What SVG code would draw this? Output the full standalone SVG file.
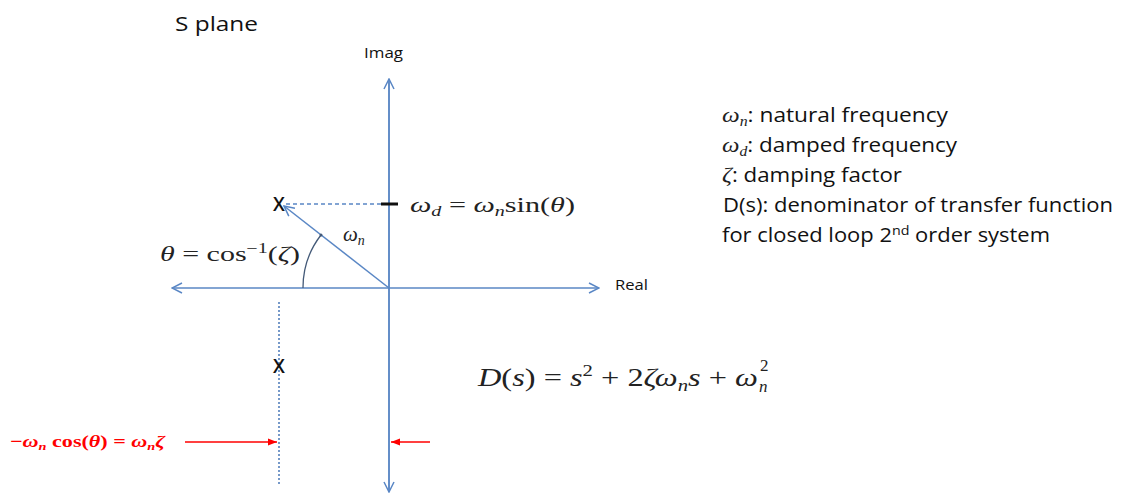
<svg xmlns="http://www.w3.org/2000/svg" width="1124" height="495" viewBox="0 0 1124 495">
<style>
.ax{stroke:#5a87c5;stroke-width:1.5;fill:none}
.lbl{font-family:"Open Sans","Liberation Sans",sans-serif;fill:#111}
.m{font-family:"Liberation Serif","DejaVu Serif",serif;fill:#222}
.i{font-style:italic}
.red{stroke:#ff0000;stroke-width:1.5;fill:none}
</style>
<defs>
<marker id="open" viewBox="0 0 12 12" refX="11" refY="6" markerWidth="12" markerHeight="12" markerUnits="userSpaceOnUse" orient="auto">
<path d="M1,1 L11,6 L1,11" fill="none" stroke="#5a87c5" stroke-width="1.5"/>
</marker>
<marker id="redhead" viewBox="0 0 10 10" refX="10" refY="5" markerWidth="9" markerHeight="9" markerUnits="userSpaceOnUse" orient="auto">
<path d="M0,1 L10,5 L0,9 Z" fill="#ff0000"/>
</marker>
</defs>
<rect width="1124" height="495" fill="#fff"/>

<g id="title"><text class="lbl" x="175" y="31" font-size="20" textLength="83" lengthAdjust="spacingAndGlyphs">S plane</text></g>

<g id="connectors">
<line class="ax" x1="389" y1="492" x2="389" y2="79" marker-end="url(#open)"/>
<line class="ax" x1="389" y1="79" x2="389" y2="492" marker-end="url(#open)"/>
<line class="ax" x1="389" y1="288" x2="172" y2="288" marker-end="url(#open)"/>
<line class="ax" x1="389" y1="288" x2="599" y2="288" marker-end="url(#open)"/>
<line class="ax" x1="389" y1="288" x2="284" y2="206" marker-end="url(#open)"/>
<line x1="286" y1="204" x2="382" y2="204" stroke="#5a87c5" stroke-width="1.3" stroke-dasharray="4,3"/>
<line x1="381" y1="204" x2="398" y2="204" stroke="#111" stroke-width="3"/>
<line x1="279" y1="302" x2="279" y2="486" stroke="#4a78b8" stroke-width="1.5" stroke-dasharray="2,2"/>
<path d="M303,288 A86,86 0 0 1 321,235" fill="none" stroke="#445a78" stroke-width="1.3"/>
<circle cx="321" cy="235" r="1.5" fill="#445a78"/>
<line class="red" x1="185" y1="442" x2="277" y2="442" marker-end="url(#redhead)"/>
<line class="red" x1="430" y1="442" x2="391" y2="442" marker-end="url(#redhead)"/>
</g>

<g id="axis-labels">
<text class="lbl" x="364" y="58" font-size="14" textLength="39" lengthAdjust="spacingAndGlyphs">Imag</text>
<text class="lbl" x="615" y="290" font-size="14" textLength="33" lengthAdjust="spacingAndGlyphs">Real</text>
</g>

<g id="poles">
<text class="lbl" x="279" y="211" font-size="19" font-weight="600" text-anchor="middle">X</text>
<text class="lbl" x="279" y="373" font-size="19" font-weight="600" text-anchor="middle">X</text>
</g>

<g id="math-labels">
<text class="m" x="410" y="212" font-size="21" textLength="165" lengthAdjust="spacingAndGlyphs"><tspan class="i">ω</tspan><tspan class="i" font-size="14" dy="4">d</tspan><tspan dy="-4"> = </tspan><tspan class="i">ω</tspan><tspan class="i" font-size="14" dy="4">n</tspan><tspan dy="-4">sin(</tspan><tspan class="i">θ</tspan>)</text>
<text class="m" x="343" y="241" font-size="21"><tspan class="i">ω</tspan><tspan class="i" font-size="14" dy="4">n</tspan></text>
<text class="m" x="160" y="261" font-size="21" textLength="140" lengthAdjust="spacingAndGlyphs"><tspan class="i">θ</tspan> = cos<tspan font-size="14" dy="-8">−1</tspan><tspan dy="8">(</tspan><tspan class="i">ζ</tspan>)</text>
<text class="m" x="478" y="386" font-size="25" textLength="280" lengthAdjust="spacingAndGlyphs"><tspan class="i">D</tspan>(<tspan class="i">s</tspan>) =  <tspan class="i">s</tspan><tspan font-size="16" dy="-10">2</tspan><tspan dy="10"> + 2</tspan><tspan class="i">ζω</tspan><tspan class="i" font-size="16" dy="5">n</tspan><tspan class="i" dy="-5">s</tspan> + <tspan class="i">ω</tspan></text>
<text class="m i" x="759" y="392" font-size="17">n</text>
<text class="m" x="760" y="371" font-size="17">2</text>
<text class="m" x="10" y="447" font-size="17" font-weight="bold" fill="#ff0000" style="fill:#ff0000" textLength="155" lengthAdjust="spacingAndGlyphs">−<tspan class="i">ω</tspan><tspan class="i" font-size="11" dy="3">n</tspan><tspan dy="-3"> cos(</tspan><tspan class="i">θ</tspan>) = <tspan class="i">ω</tspan><tspan class="i" font-size="11" dy="3">n</tspan><tspan class="i" dy="-3">ζ</tspan></text>
</g>

<g id="legend">
<text class="lbl" x="722" y="122" font-size="20" textLength="226" lengthAdjust="spacingAndGlyphs"><tspan class="m i" font-size="22">ω</tspan><tspan class="m i" font-size="14" dy="4">n</tspan><tspan dy="-4">: natural frequency</tspan></text>
<text class="lbl" x="722" y="152" font-size="20" textLength="235" lengthAdjust="spacingAndGlyphs"><tspan class="m i" font-size="22">ω</tspan><tspan class="m i" font-size="14" dy="4">d</tspan><tspan dy="-4">: damped frequency</tspan></text>
<text class="lbl" x="722" y="182" font-size="20" textLength="180" lengthAdjust="spacingAndGlyphs"><tspan class="m i" font-size="22">ζ</tspan>: damping factor</text>
<text class="lbl" x="723" y="212" font-size="20" textLength="390" lengthAdjust="spacingAndGlyphs">D(s): denominator of transfer function</text>
<text class="lbl" x="722" y="242" font-size="20" textLength="328" lengthAdjust="spacingAndGlyphs">for closed loop 2<tspan font-size="13" dy="-7">nd</tspan><tspan dy="7"> order system</tspan></text>
</g>
</svg>
